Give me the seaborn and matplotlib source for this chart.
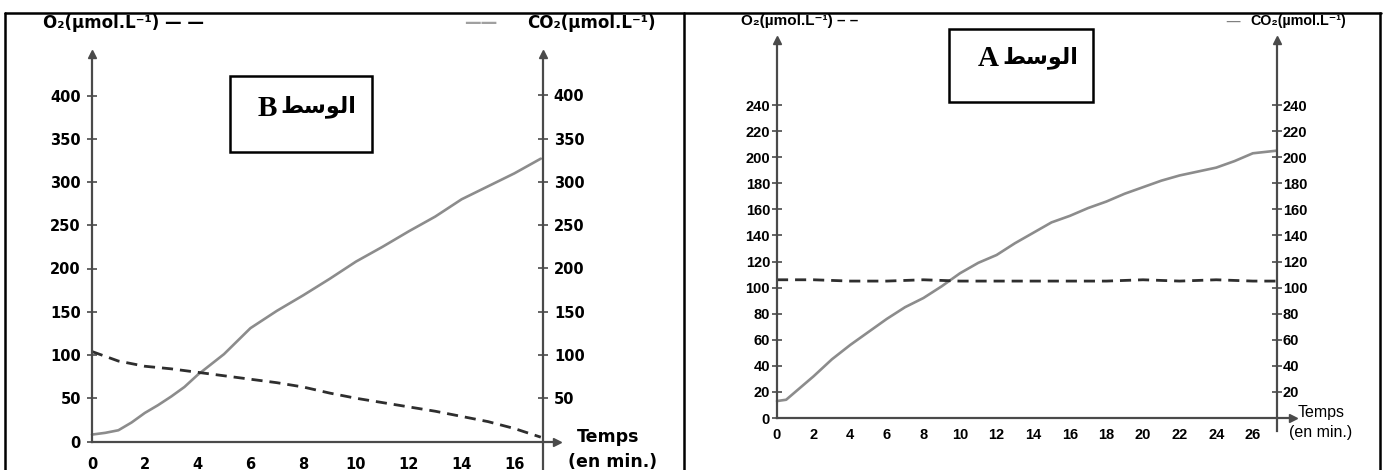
import matplotlib
matplotlib.use("Agg")
import matplotlib.pyplot as plt
import seaborn as sns
import pandas as pd
from matplotlib.patches import Rectangle
from matplotlib.lines import Line2D

# ---------------- data ----------------
# Medium B
b_time = [0, 0.5, 1, 1.5, 2, 2.5, 3, 3.5, 4, 4.5, 5, 6, 7, 8, 9, 10, 11, 12, 13, 14, 15, 16, 17]
b_co2 = [8, 10, 13, 22, 33, 42, 52, 63, 77, 89, 101, 131, 151, 169, 188, 208, 225, 243, 260, 280, 295, 310, 327]
b_o2_time = [0, 1, 2, 3, 4, 5, 6, 7, 8, 9, 10, 11, 12, 13, 14, 15, 16, 17]
b_o2 = [104, 93, 87, 84, 80, 76, 72, 68, 63, 56, 50, 45, 40, 35, 29, 23, 15, 5]
b_xticks = [0, 2, 4, 6, 8, 10, 12, 14, 16]
b_yticks = [0, 50, 100, 150, 200, 250, 300, 350, 400]

# Medium A
a_time = [0, 0.5, 1, 2, 3, 4, 5, 6, 7, 8, 9, 10, 11, 12, 13, 14, 15, 16, 17, 18, 19, 20,
          21, 22, 23, 24, 25, 26, 27.3]
a_co2 = [13, 14, 20, 32, 45, 56, 66, 76, 85, 92, 101, 111, 119, 125, 134, 142, 150, 155,
         161, 166, 172, 177, 182, 186, 189, 192, 197, 203, 205]
a_o2_time = [0, 2, 4, 6, 8, 10, 12, 14, 16, 18, 20, 22, 24, 26, 27.3]
a_o2 = [106, 106, 105, 105, 106, 105, 105, 105, 105, 105, 106, 105, 106, 105, 105]
a_xticks = [0, 2, 4, 6, 8, 10, 12, 14, 16, 18, 20, 22, 24, 26]
a_yticks = [0, 20, 40, 60, 80, 100, 120, 140, 160, 180, 200, 220, 240]

o2_label = "O\u2082(\u00b5mol.L\u207b\u00b9)"
co2_label = "CO\u2082(\u00b5mol.L\u207b\u00b9)"
medium_word = "الوسط"
# visual (left-to-right) presentation forms of the word above
medium_word_visual = "\uFEC2\uFEB3\uFEEE\uFEDF\uFE8D"
medium_letters = ["B", "A"]

# ---------------- style ----------------
sns.set_style("white")
plt.rcParams['font.family'] = ['DejaVu Sans']
plt.rcParams['text.color'] = 'black'

W, H = 1386, 470
fig = plt.figure(figsize=(W / 100, H / 100), dpi=100)

AX_COL = '#4a4a4a'
CO2_COL = '#8c8c8c'
O2_COL = '#2e2e2e'


def fx(px):
    return px / W


def fy(py):
    return 1 - py / H


def make_axes(x0, y0, sx, sy, xlim, ylim):
    left = (x0 + xlim[0] * sx) / W
    width = (xlim[1] - xlim[0]) * sx / W
    bottom = (H - (y0 - ylim[0] * sy)) / H
    height = (ylim[1] - ylim[0]) * sy / H
    ax = fig.add_axes([left, bottom, width, height])
    ax.set_xlim(*xlim)
    ax.set_ylim(*ylim)
    ax.patch.set_alpha(0)
    return ax


def style_panel(ax, xr, xticks, yticks, xlim, ylim, fam, weight, fs, pads):
    for s in ['top', 'right']:
        ax.spines[s].set_visible(False)
    ax.spines['left'].set_position(('data', 0))
    ax.spines['left'].set_bounds(0, ylim[1])
    ax.spines['bottom'].set_position(('data', 0))
    ax.spines['bottom'].set_bounds(0, xlim[1])
    for s in ['left', 'bottom']:
        ax.spines[s].set_color(AX_COL)
        ax.spines[s].set_linewidth(1.6)
    ax.set_xticks(xticks)
    ax.set_yticks(yticks)
    ax.set_xticklabels([str(v) for v in xticks], family=fam, weight=weight, fontsize=fs)
    ax.set_yticklabels([str(v) for v in yticks], family=fam, weight=weight, fontsize=fs)
    ax.tick_params(axis='both', direction='inout', length=7, width=1.2, colors=AX_COL,
                   labelcolor='black')
    ax.tick_params(axis='y', pad=pads[0])
    ax.tick_params(axis='x', pad=pads[1])
    ax.set_xlabel('')
    ax.set_ylabel('')

    tw = ax.twinx()
    tw.set_ylim(*ylim)
    tw.patch.set_alpha(0)
    for s in ['top', 'left', 'bottom']:
        tw.spines[s].set_visible(False)
    tw.spines['right'].set_position(('data', xr))
    tw.spines['right'].set_color(AX_COL)
    tw.spines['right'].set_linewidth(1.6)
    tw.set_yticks(yticks[1:])
    tw.set_yticklabels([str(v) for v in yticks[1:]], family=fam, weight=weight, fontsize=fs)
    tw.tick_params(axis='y', direction='inout', length=7, width=1.2, colors=AX_COL,
                   labelcolor='black', pad=pads[2])
    # arrow heads
    ax.plot([0], [ylim[1]], marker='^', color=AX_COL, ms=6, clip_on=False)
    ax.plot([xr], [ylim[1]], marker='^', color=AX_COL, ms=6, clip_on=False)
    ax.plot([xlim[1]], [0], marker='>', color=AX_COL, ms=6, clip_on=False)
    return tw


def draw_lines(ax, t, co2, t2, o2):
    d1 = pd.DataFrame({'t': t, 'v': co2})
    d2 = pd.DataFrame({'t': t2, 'v': o2})
    sns.lineplot(data=d1, x='t', y='v', ax=ax, color=CO2_COL, lw=1.9, sort=False,
                 estimator=None, clip_on=False)
    sns.lineplot(data=d2, x='t', y='v', ax=ax, color=O2_COL, lw=2.0, sort=False,
                 estimator=None, linestyle=(0, (4, 2.5)), clip_on=False)
    ax.set_xlabel('')
    ax.set_ylabel('')


# ---------------- panel B ----------------
xlimB, ylimB = (0, 17.6), (-33, 448)
axB = make_axes(92, 441.5, 26.4, 0.865, xlimB, ylimB)
draw_lines(axB, b_time, b_co2, b_o2_time, b_o2)
style_panel(axB, 17.1, b_xticks, b_yticks, xlimB, ylimB, 'DejaVu Sans', 'bold', 10.5,
            (4.5, 7.5, 4.0))

# ---------------- panel A ----------------
xlimA, ylimA = (0, 28.2), (-10, 290)
axA = make_axes(777, 418, 18.3, 1.304, xlimA, ylimA)
draw_lines(axA, a_time, a_co2, a_o2_time, a_o2)
style_panel(axA, 27.3, a_xticks, a_yticks, xlimA, ylimA, 'Liberation Sans', 'bold', 10.5,
            (1.5, 4.0, 1.0))

# ---------------- labels ----------------
# panel B headers
fig.text(fx(43), fy(23), o2_label + " \u2014 \u2014", ha='left', va='center',
         fontsize=12, weight='bold', family=['DejaVu Sans'])
fig.text(fx(497), fy(23), "\u2014\u2014", ha='right', va='center', fontsize=12,
         weight='bold', color='#a0a0a0')
fig.text(fx(656), fy(23), co2_label, ha='right', va='center', fontsize=12,
         weight='bold', family=['DejaVu Sans'])
fig.text(fx(577), fy(437), "Temps", ha='left', va='center', fontsize=12.5, weight='bold')
fig.text(fx(568), fy(462), "(en min.)", ha='left', va='center', fontsize=12.5, weight='bold')

# panel A headers
fig.text(fx(741), fy(21), o2_label + " \u2013 \u2013", ha='left', va='center',
         fontsize=11, weight='bold', family=['Liberation Sans', 'DejaVu Sans'])
fig.text(fx(1240), fy(21), "\u2014", ha='right', va='center', fontsize=11,
         color='#808080')
fig.text(fx(1346), fy(21), co2_label, ha='right', va='center', fontsize=10.3,
         weight='bold', family=['Liberation Sans', 'DejaVu Sans'])
fig.text(fx(1298), fy(412), "Temps", ha='left', va='center', fontsize=11.5,
         family='Liberation Sans')
fig.text(fx(1289), fy(433), "(en min.)", ha='left', va='center', fontsize=11.5,
         family='Liberation Sans')

# boxes with medium names
boxes = [(230, 76, 372, 152, 267, 318, 108), (949, 29, 1093, 102, 988, 1040, 59)]
for letter, (x0, y0, x1, y1, lx, wx, cy) in zip(medium_letters, boxes):
    fig.add_artist(Rectangle((fx(x0), fy(y1)), fx(x1 - x0), (y1 - y0) / H,
                             transform=fig.transFigure, fill=False, lw=1.8,
                             edgecolor='black'))
    fig.text(fx(lx), fy(cy), letter, ha='center', va='center', fontsize=21,
             weight='bold', family=['Liberation Serif'], color='black')
    fig.text(fx(wx), fy(cy - 1), medium_word_visual, ha='center', va='center', fontsize=16,
             weight='bold', family=['DejaVu Sans'], color='black')

# outer frame
for (xa, ya, xb, yb) in [(5, 13, 1381, 13), (5, 13, 5, 470), (684, 13, 684, 470),
                         (1380, 13, 1380, 470)]:
    fig.add_artist(Line2D([fx(xa), fx(xb)], [fy(ya), fy(yb)], transform=fig.transFigure,
                          color='black', lw=1.8))

fig.savefig("out.png", dpi=100)
